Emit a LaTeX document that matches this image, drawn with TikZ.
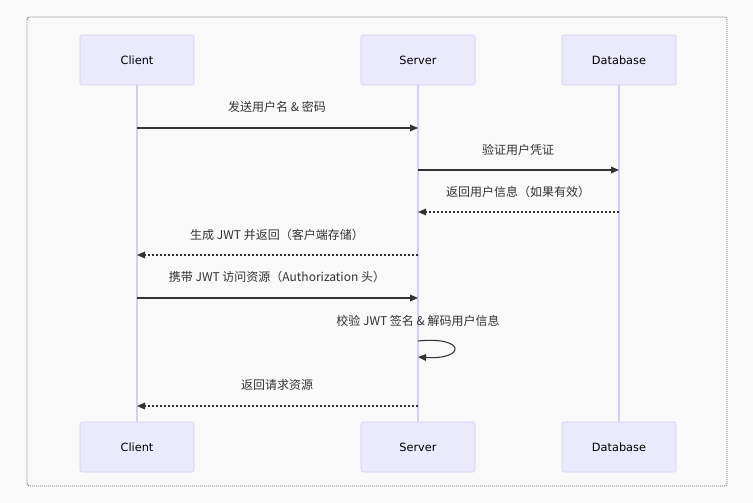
\documentclass[tikz,border=0pt]{standalone}
\usepackage{fontspec}
\setmainfont{DejaVu Sans}
\newfontfamily\cjk{Noto Sans CJK SC}
\usepackage{tikz}
\usetikzlibrary{positioning}
\usetikzlibrary{arrows.meta}

\definecolor{bgcol}{RGB}{249,249,249}
\definecolor{actorfill}{RGB}{234,234,252}
\definecolor{actorline}{RGB}{214,204,244}
\definecolor{ink}{RGB}{51,51,51}

\tikzset{
    actor/.style={draw=actorline, fill=actorfill, rounded corners=1.5pt,
        minimum width=114*0.75pt, minimum height=50*0.75pt,
        font=\fontsize{8.5}{10}\selectfont, text=black},
    life/.style={draw=actorline, line width=1pt},
    msg/.style={draw=ink, line width=0.8pt, -{Triangle[length=6pt,width=5pt]}},
    reply/.style={msg, dash pattern=on 1.5pt off 1.5pt},
    lbl/.style={font=\cjk\fontsize{9}{11}\selectfont, text=ink}
}

\begin{document}
\begin{tikzpicture}[x=0.75pt, y=-0.75pt]

    \fill[bgcol] (0,0) rectangle (753,503);
    \useasboundingbox (0,0) rectangle (753,503);
    \draw[black!60, line width=0.7pt, dash pattern=on 0.75pt off 0.75pt, rounded corners=2pt] (27,17) rectangle (727,486);

    % actors, top and bottom
    \node[actor] (client) at (137,60) {Client};
    \node[actor] (server) at (418,60) {Server};
    \node[actor] (db) at (619,60) {Database};
    \node[actor] (client2) at (137,447) {Client};
    \node[actor] (server2) at (418,447) {Server};
    \node[actor] (db2) at (619,447) {Database};

    \draw[life] (client) -- (client2);
    \draw[life] (server) -- (server2);
    \draw[life] (db) -- (db2);

    % messages
    \coordinate (c1) at (137,128);  \coordinate (s1) at (418,128);
    \coordinate (s2) at (418,170);  \coordinate (d2) at (619,170);
    \coordinate (d3) at (619,212);  \coordinate (s3) at (418,212);
    \coordinate (s4) at (418,255);  \coordinate (c4) at (137,255);
    \coordinate (c5) at (137,298);  \coordinate (s5) at (418,298);
    \coordinate (s6) at (418,341);  \coordinate (s6b) at (418,357);
    \coordinate (s7) at (418,406);  \coordinate (c7) at (137,406);

    \draw[msg] (c1) -- (s1);
    \node[lbl] (t1) at (277,107) {发送用户名 \& 密码};
    \draw[msg] (s2) -- (d2);
    \node[lbl] (t2) at (518,150) {验证用户凭证};
    \draw[reply] (d3) -- (s3);
    \node[lbl] (t3) at (518,192) {返回用户信息（如果有效）};
    \draw[reply] (s4) -- (c4);
    \node[lbl] (t4) at (277,235) {生成 JWT 并返回（客户端存储）};
    \draw[msg] (c5) -- (s5);
    \node[lbl] (t5) at (277,277) {携带 JWT 访问资源（Authorization 头）};
    \draw[msg] (s6) .. controls (466,336) and (466,360) .. (s6b);
    \node[lbl] (t6) at (418,321) {校验 JWT 签名 \& 解码用户信息};
    \draw[reply] (s7) -- (c7);
    \node[lbl] (t7) at (277,385) {返回请求资源};

\end{tikzpicture}
\end{document}
